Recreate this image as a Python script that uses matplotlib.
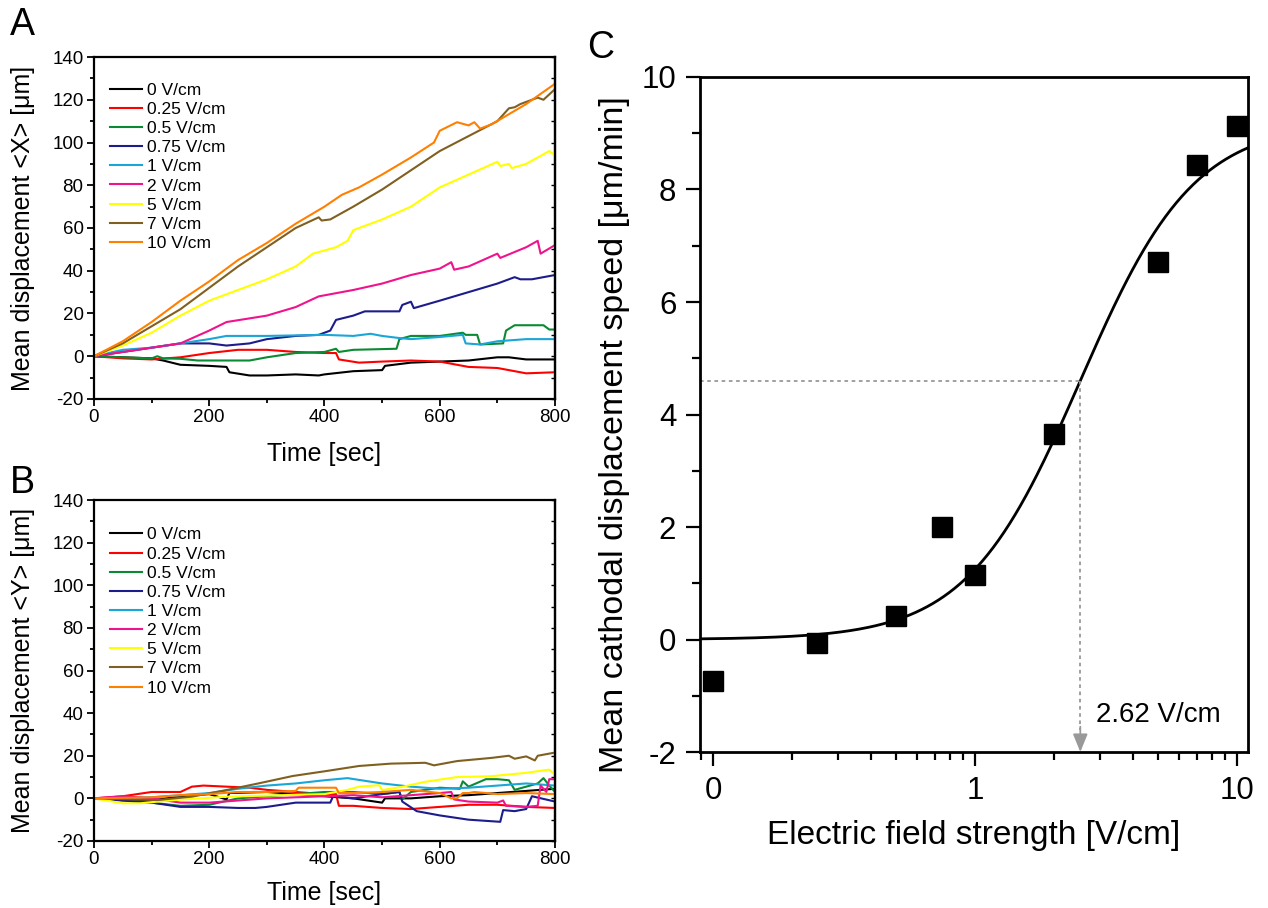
"""Cathodal displacement of cells in an electric field: panels A, B and C"""

import numpy as np
import matplotlib
matplotlib.use("Agg")
import matplotlib.pyplot as plt
from matplotlib.ticker import MultipleLocator, FixedLocator, LogLocator, NullFormatter

plt.rcParams['font.family'] = ['Liberation Sans', 'DejaVu Sans']
plt.rcParams['axes.unicode_minus'] = False

# series labels and colours (same for A and B)
labels = ["0 V/cm", "0.25 V/cm", "0.5 V/cm", "0.75 V/cm", "1 V/cm",
          "2 V/cm", "5 V/cm", "7 V/cm", "10 V/cm"]
colors = ["#000000", "#ff0000", "#0a8a32", "#1c1c8c", "#1aa6d6",
          "#f0138c", "#ffff00", "#806020", "#ff8000"]

# ---- panel A: mean displacement <X> (time in sec, value in um)
tx_0 = [0, 50, 100, 120, 150, 200, 230, 235, 270, 300, 350, 390, 400, 450, 500, 505, 550, 600, 650, 700, 720, 750, 800]
x_0 = [0, -0.5, -1, -2, -4, -4.5, -5, -7.5, -9, -9, -8.5, -9, -8.5, -7, -6.5, -4.5, -3, -2.5, -2, -0.5, -0.5, -1.5, -1.5]
tx_1 = [0, 50, 100, 150, 200, 250, 300, 350, 400, 420, 425, 460, 500, 550, 600, 650, 700, 750, 800]
x_1 = [0, -1, -1.5, -0.5, 1.5, 3, 3, 2, 1.5, 1.5, -1.5, -3, -2.5, -2, -2.5, -5, -5.5, -8, -7.5]
tx_2 = [0, 50, 100, 110, 120, 150, 180, 270, 300, 350, 400, 420, 425, 450, 525, 530, 550, 600, 640, 645, 665, 670, 710, 715, 730, 780, 790, 800]
x_2 = [0, -0.5, -1, 0, -1, -1.2, -2, -2, -0.5, 1.5, 2, 3.5, 2, 3, 3.5, 8, 9.5, 9.5, 11, 10, 10, 5.5, 6, 12, 14.5, 14.5, 12.5, 12.5]
tx_3 = [0, 50, 100, 150, 200, 230, 270, 300, 350, 390, 410, 420, 450, 470, 530, 535, 550, 555, 600, 650, 700, 730, 740, 760, 800]
x_3 = [0, 2, 4, 6, 6, 5, 6, 8, 9.5, 10, 12, 17, 19, 21, 21, 24, 25.5, 22.5, 26, 30, 34, 37, 36, 36, 38]
tx_4 = [0, 50, 100, 150, 200, 230, 300, 400, 450, 480, 500, 530, 550, 600, 640, 645, 670, 700, 750, 800]
x_4 = [0, 3, 4, 6, 8, 9.5, 9.5, 10, 9.5, 10.5, 9.5, 8.5, 8, 9, 10, 6, 5.5, 7, 8, 8]
tx_5 = [0, 50, 100, 150, 200, 230, 300, 350, 390, 450, 500, 550, 600, 620, 625, 650, 700, 705, 750, 770, 775, 800]
x_5 = [0, 2, 4, 6, 12, 16, 19, 23, 28, 31, 34, 38, 41, 44, 40.5, 42, 48, 46, 51, 54, 48, 52]
tx_6 = [0, 50, 100, 150, 200, 250, 300, 350, 380, 400, 420, 440, 450, 460, 500, 550, 600, 650, 700, 705, 720, 725, 750, 790, 800]
x_6 = [0, 5, 11, 19, 26, 31, 36, 42, 48, 49.5, 51, 54, 59, 60, 64, 70, 79, 85, 91, 89, 90, 88, 90, 96, 94]
tx_7 = [0, 50, 100, 150, 200, 250, 300, 350, 390, 395, 410, 450, 500, 550, 600, 650, 700, 720, 730, 740, 760, 770, 780, 800]
x_7 = [0, 6, 14, 22, 32, 42, 51, 60, 65, 63.5, 64, 70, 78, 87, 96, 103, 110, 116, 116.5, 118, 120, 121, 120, 125]
tx_8 = [0, 50, 100, 150, 200, 250, 300, 350, 400, 430, 460, 500, 550, 590, 600, 630, 650, 660, 670, 690, 750, 800]
x_8 = [0, 7, 16, 26, 35, 45, 53, 62, 70, 75.5, 79, 85, 93, 100, 105.5, 109.5, 108, 109.5, 106.5, 108.5, 118, 127.5]

# ---- panel B: mean displacement <Y>
ty_0 = [0, 100, 150, 200, 230, 235, 300, 350, 400, 450, 500, 505, 550, 600, 650, 700, 750, 800]
y_0 = [0, -1, 1, 2, -0.5, 2.5, 3, 2, 1, 0, -2, 0, 0, 1, 1.5, 2.5, 3.5, 4.5]
ty_1 = [0, 50, 100, 150, 170, 190, 230, 270, 300, 350, 400, 420, 425, 450, 500, 550, 600, 650, 700, 750, 800]
y_1 = [0, 1, 3, 3, 5.5, 6, 5.5, 5, 4, 3, 2, 2, -3.5, -3.5, -4.5, -5, -4, -3, -3, -4, -4.5]
ty_2 = [0, 100, 150, 200, 250, 300, 350, 400, 450, 500, 530, 535, 550, 600, 635, 640, 650, 680, 700, 720, 730, 770, 780, 790, 800]
y_2 = [0, -2, -3.5, -3, 0, 1, 2, 3, 3, 2, 3, -0.5, 3, 5, 4.5, 8, 5.5, 9, 9, 8.5, 4, 7, 9.5, 6, 3]
ty_3 = [0, 50, 100, 150, 200, 250, 280, 300, 350, 410, 415, 450, 500, 530, 535, 560, 600, 650, 705, 710, 730, 750, 760, 800]
y_3 = [0, -1, -2, -4, -4, -4.5, -4.5, -4, -2, -2, 1, 0, 2, 3, -1.5, -6, -8, -10, -11, -5.5, -6, -5, 1, -1.5]
ty_4 = [0, 100, 150, 200, 250, 300, 350, 400, 440, 500, 550, 600, 650, 700, 750, 800]
y_4 = [0, 0.5, 1.5, 2.5, 4.5, 6, 7, 8.5, 9.5, 7, 5.5, 4.5, 5, 6, 7, 6]
ty_5 = [0, 50, 100, 150, 200, 250, 300, 350, 400, 450, 500, 550, 600, 620, 625, 650, 700, 710, 715, 750, 770, 775, 785, 790, 800]
y_5 = [0, 1, 0, -2, -2, -1, 0, 0.5, 1, 1.5, 0.5, 1.5, 2.5, 3, -0.5, -1.5, -2, -1, -3.5, -4, -3.5, 6, 3, 9, 9]
ty_6 = [0, 50, 80, 140, 230, 400, 440, 460, 495, 500, 535, 575, 630, 690, 750, 790, 800]
y_6 = [0, -2.3, -2.3, -0.8, 0.8, 2, 4, 5.5, 6.2, 3.9, 5.4, 7.8, 10, 10.4, 12, 13.5, 11]
ty_7 = [0, 110, 170, 230, 285, 345, 400, 460, 515, 575, 590, 630, 690, 720, 730, 750, 765, 770, 800]
y_7 = [0, -0.8, 0.8, 3.9, 7, 10.5, 12.7, 15.2, 16.3, 16.7, 15.5, 17.5, 19, 20, 18.6, 19.7, 17.8, 20, 21.5]
ty_8 = [0, 100, 150, 200, 250, 300, 350, 355, 420, 425, 450, 500, 550, 600, 620, 630, 640, 650, 660, 700, 750, 800]
y_8 = [0, 0.5, 1.5, 2, 3, 3, 3.5, 5, 5, 2.5, 2.5, 3, 4, 2.5, 0, 0, 2.5, 2.5, 3, 2, 2.5, 2]

# ---- panel C: mean cathodal speed vs field strength
fields = [0, 0.25, 0.5, 0.75, 1, 2, 5, 7, 10]
speed = [-0.73, -0.07, 0.42, 2.0, 1.14, 3.65, 6.72, 8.43, 9.13]
# Hill fit as drawn in the figure, and the half-maximum field quoted on it
fit_top = 9.2
fit_ec50 = 2.52
fit_n = 2.0
ec50_text = "2.62 V/cm"

tx_all = [tx_0, tx_1, tx_2, tx_3, tx_4, tx_5, tx_6, tx_7, tx_8]
x_all = [x_0, x_1, x_2, x_3, x_4, x_5, x_6, x_7, x_8]
ty_all = [ty_0, ty_1, ty_2, ty_3, ty_4, ty_5, ty_6, ty_7, ty_8]
y_all = [y_0, y_1, y_2, y_3, y_4, y_5, y_6, y_7, y_8]

fig = plt.figure(figsize=(12.68, 9.08), dpi=100)


def style_time_axis(ax, ylabel):
    ax.set_xlim(0, 800)
    ax.set_ylim(-20, 140)
    ax.xaxis.set_major_locator(MultipleLocator(200))
    ax.xaxis.set_minor_locator(MultipleLocator(100))
    ax.yaxis.set_major_locator(MultipleLocator(20))
    ax.yaxis.set_minor_locator(MultipleLocator(10))
    ax.tick_params(which="both", direction="out", width=1.3, labelsize=13.5)
    ax.tick_params(which="major", length=5, pad=2.5)
    ax.tick_params(which="minor", length=3)
    for s in ax.spines.values():
        s.set_linewidth(1.6)
    sec = ax.secondary_yaxis("right")
    sec.yaxis.set_major_locator(MultipleLocator(10))
    sec.tick_params(direction="in", length=3, width=1.0, labelright=False)
    sec.spines["right"].set_linewidth(1.6)
    ax.set_xlabel("Time [sec]", fontsize=18)
    ax.set_ylabel(ylabel, fontsize=18)
    ax.yaxis.set_label_coords(-0.128, 0.5)


# Panel A
axA = fig.add_axes([0.0741, 0.5606, 0.3636, 0.3766])
for t, v, c, lab in zip(tx_all, x_all, colors, labels):
    axA.plot(t, v, color=c, lw=1.5, label=lab)
style_time_axis(axA, "Mean displacement <X> [\u03bcm]")
axA.xaxis.set_label_coords(0.5, -0.125)
axA.legend(loc="upper left", bbox_to_anchor=(0.035, 0.925), frameon=False, fontsize=12.5,
           handlelength=1.85, handletextpad=0.3, labelspacing=0.23, borderpad=0, borderaxespad=0)

# Panel B
axB = fig.add_axes([0.0741, 0.0738, 0.3636, 0.3755])
for t, v, c, lab in zip(ty_all, y_all, colors, labels):
    axB.plot(t, v, color=c, lw=1.5, label=lab)
style_time_axis(axB, "Mean displacement <Y> [\u03bcm]")
axB.xaxis.set_label_coords(0.5, -0.118)
axB.legend(loc="upper left", bbox_to_anchor=(0.035, 0.92), frameon=False, fontsize=12.5,
           handlelength=1.85, handletextpad=0.3, labelspacing=0.23, borderpad=0, borderaxespad=0)

# Panel C (log x axis, zero field drawn at 0.1)
axC = fig.add_axes([0.552, 0.1718, 0.4322, 0.7434])
axC.set_xscale("log")
x_plot = [f if f > 0 else 0.1 for f in fields]
xf = np.logspace(np.log10(0.089), np.log10(11.0), 300)
yf = fit_top * xf ** fit_n / (fit_ec50 ** fit_n + xf ** fit_n)
axC.plot(xf, yf, color="black", lw=2.0)
axC.plot(x_plot, speed, "s", color="black", ms=14)

half = fit_top / 2
axC.plot([0.089, fit_ec50], [half, half], color="#999999", lw=1.3, ls=(0, (2, 2)))
axC.plot([fit_ec50, fit_ec50], [half, -1.6], color="#999999", lw=1.3, ls=(0, (2, 2)))
axC.annotate("", xy=(fit_ec50, -2), xytext=(fit_ec50, -1.55),
             arrowprops=dict(arrowstyle="-|>,head_length=1.1,head_width=0.45",
                             color="#999999", lw=1.3, shrinkA=0, shrinkB=0))
axC.text(2.9, -1.35, ec50_text, fontsize=20, ha="left", va="center")

axC.set_xlim(0.089, 11.0)
axC.set_ylim(-2, 10)
axC.xaxis.set_major_locator(FixedLocator([0.1, 1, 10]))
axC.set_xticklabels(["0", "1", "10"])
axC.xaxis.set_minor_locator(LogLocator(base=10, subs=np.arange(2, 10)))
axC.xaxis.set_minor_formatter(NullFormatter())
axC.yaxis.set_major_locator(MultipleLocator(2))
axC.yaxis.set_minor_locator(MultipleLocator(1))
axC.tick_params(which="both", direction="out", width=1.6, labelsize=22.5)
axC.tick_params(which="major", length=10, pad=7)
axC.tick_params(which="minor", length=6)
for s in axC.spines.values():
    s.set_linewidth(2.0)
axC.set_xlabel("Electric field strength [V/cm]", fontsize=24)
axC.set_ylabel("Mean cathodal displacement speed [\u03bcm/min]", fontsize=24.5)
axC.xaxis.set_label_coords(0.5, -0.1)
axC.yaxis.set_label_coords(-0.128, 0.47)

# panel letters
fig.text(0.008, 0.972, "A", fontsize=27, va="center", ha="left")
fig.text(0.008, 0.468, "B", fontsize=27, va="center", ha="left")
fig.text(0.463, 0.947, "C", fontsize=27, va="center", ha="left")

fig.savefig("out.png", dpi=100)
